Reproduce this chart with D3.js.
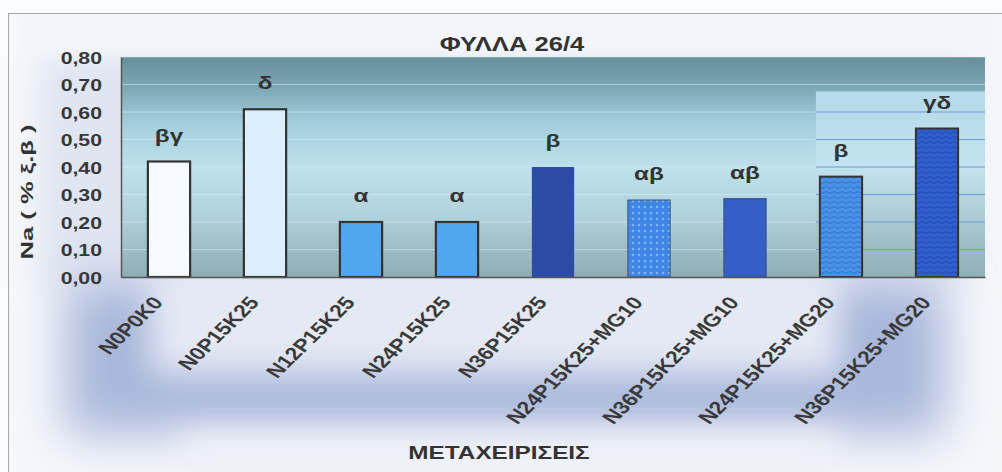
<!DOCTYPE html>
<html><head><meta charset="utf-8">
<script src="https://cdn.jsdelivr.net/npm/d3@7"></script>
<style>html,body{margin:0;padding:0;background:#fff;}svg{display:block;}</style>
</head><body>
<svg id="chart" width="1002" height="472"></svg>
<script>
const categories = ["N0P0K0","N0P15K25","N12P15K25","N24P15K25","N36P15K25","N24P15K25+MG10","N36P15K25+MG10","N24P15K25+MG20","N36P15K25+MG20"];
const values = [0.42, 0.61, 0.20, 0.20, 0.40, 0.28, 0.285, 0.365, 0.54];
const letters = ["βγ","δ","α","α","β","αβ","αβ","β","γδ"];
const yTicks = [0,0.1,0.2,0.3,0.4,0.5,0.6,0.7,0.8];
const title = "ΦΥΛΛΑ 26/4";
const xTitle = "ΜΕΤΑΧΕΙΡΙΣΕΙΣ";
const yTitle = "Na ( % ξ.β )";

const svg = d3.select("#chart");
const W = 1002, H = 472;
const L = 121, R = 985, T = 57, B = 277;
const FONT = "Liberation Sans, Arial, sans-serif";
const SX = 1.28; // horizontal stretch of the original picture

const defs = svg.append("defs");
function lg(id, stops, x2=0, y2=1){
  const g = defs.append("linearGradient").attr("id", id).attr("x1",0).attr("y1",0).attr("x2",x2).attr("y2",y2);
  stops.forEach(s=>g.append("stop").attr("offset",s[0]).attr("stop-color",s[1]));
}
lg("plotBg", [[0,"#668f9b"],[0.13,"#7aa5b1"],[0.3,"#a3cedc"],[0.5,"#bee1ec"],[0.72,"#b1d2dc"],[1,"#8eacb3"]]);
lg("panelBg", [[0,"#b5daea"],[0.4,"#c3e3ef"],[1,"#8fb0b6"]]);
function blur(id, sd){
  defs.append("filter").attr("id",id).attr("x","-40%").attr("y","-80%").attr("width","180%").attr("height","260%")
    .append("feGaussianBlur").attr("stdDeviation",sd);
}
blur("blurA",24); blur("blurB",16); blur("blurC",4);

// dotted pattern
const pDot = defs.append("pattern").attr("id","dots").attr("width",6).attr("height",6).attr("patternUnits","userSpaceOnUse");
pDot.append("rect").attr("width",6).attr("height",6).attr("fill","#3f86e4");
pDot.append("circle").attr("cx",3).attr("cy",3).attr("r",1.3).attr("fill","#7fb4f4");
// wave patterns
function wave(id, bg, fg){
  const p = defs.append("pattern").attr("id",id).attr("width",8).attr("height",5).attr("patternUnits","userSpaceOnUse");
  p.append("rect").attr("width",8).attr("height",5).attr("fill",bg);
  p.append("path").attr("d","M0,2.5 Q2,0.5 4,2.5 T8,2.5").attr("fill","none").attr("stroke",fg).attr("stroke-width",1);
}
wave("wave1","#4a92e6","#2f6fd0");
wave("wave2","#2f5fcc","#2248b0");

// outer background
svg.append("rect").attr("width",W).attr("height",H).attr("fill","#fbfcfe");
svg.append("rect").attr("x",8).attr("y",13).attr("width",994).attr("height",459).attr("fill","#f5f7fb");
// glow
svg.append("rect").attr("x",40).attr("y",55).attr("width",930).attr("height",230)
  .attr("fill","#dfe5f1").attr("filter","url(#blurB)");
svg.append("rect").attr("x",65).attr("y",280).attr("width",880).attr("height",155)
  .attr("fill","#a9b7da").attr("filter","url(#blurA)");
svg.append("rect").attr("x",150).attr("y",262).attr("width",690).attr("height",112)
  .attr("fill","#e4e9f4").attr("filter","url(#blurB)");
svg.append("rect").attr("x",180).attr("y",432).attr("width",660).attr("height",50)
  .attr("fill","#eef1f8").attr("filter","url(#blurB)");
// title band
svg.append("rect").attr("x",20).attr("y",15).attr("width",975).attr("height",38)
  .attr("fill","#f3f5fa").attr("filter","url(#blurC)");
// frame
svg.append("rect").attr("x",8.5).attr("y",13.5).attr("width",1000).attr("height",470)
  .attr("fill","none").attr("stroke","#a8a8a8").attr("stroke-width",1);

const x = d3.scaleBand().domain(categories).range([L,R]).paddingInner(0.56).paddingOuter(0.28);
const y = d3.scaleLinear().domain([0,0.8]).range([B,T]);

// plot background
svg.append("rect").attr("x",L).attr("y",T).attr("width",R-L).attr("height",B-T).attr("fill","url(#plotBg)");
svg.append("g").selectAll("line").data(yTicks.slice(1)).join("line")
  .attr("x1",L).attr("x2",R).attr("y1",d=>y(d)).attr("y2",d=>y(d))
  .attr("stroke","#d6eef6").attr("stroke-width",1.2).attr("opacity",0.55);
// right lighter panel
const panelX = x(categories[7]) - 4;
svg.append("rect").attr("x",panelX).attr("y",y(0.675)).attr("width",R-panelX).attr("height",B-y(0.675)).attr("fill","url(#panelBg)");
svg.append("g").selectAll("line").data(yTicks.filter(d=>d>0 && d<0.675)).join("line")
  .attr("x1",panelX).attr("x2",R).attr("y1",d=>y(d)).attr("y2",d=>y(d))
  .attr("stroke","#6f9bd8").attr("stroke-width",1.2);

// bars
const fills = ["#f6f9fd","#dcefff","#52a6ee","#52a6ee","#2c4ca8","url(#dots)","#3460c6","url(#wave1)","url(#wave2)"];
const strokes = ["#333","#333","#333","#333","none","#3a5070","#2f4f8a","#333","#333"];
const sw = [2.2,2.2,2.2,2.2,0,1,1,2,2];
svg.append("g").selectAll("rect").data(categories).join("rect")
  .attr("x",d=>x(d)).attr("width",x.bandwidth())
  .attr("y",(d,i)=>y(values[i])).attr("height",(d,i)=>y(0)-y(values[i]))
  .attr("fill",(d,i)=>fills[i]).attr("stroke",(d,i)=>strokes[i]).attr("stroke-width",(d,i)=>sw[i]);

// letters
svg.append("g").selectAll("text").data(categories).join("text")
  .attr("transform",(d,i)=>`translate(${x(d)+x.bandwidth()/2},${y(values[i])-20}) scale(${SX},1)`)
  .attr("text-anchor","middle").attr("font-family",FONT)
  .attr("font-weight","bold").attr("font-size",19).attr("fill","#333")
  .text((d,i)=>letters[i]);

// axes
const yAxis = d3.axisLeft(y).tickValues(yTicks).tickSize(0).tickPadding(0)
  .tickFormat(d=>d3.format(".2f")(d).replace(".",","));
const gy = svg.append("g").attr("transform",`translate(${L},0)`).call(yAxis);
gy.select(".domain").attr("stroke","#555").attr("stroke-width",1.5);
gy.selectAll(".tick text").attr("x",null).attr("dy","0.36em")
  .attr("transform",`translate(-19,0) scale(1.25,1)`)
  .attr("font-family",FONT).attr("font-weight","bold").attr("font-size",17).attr("fill","#383838");

const xAxis = d3.axisBottom(x).tickSize(0).tickPadding(0);
const gx = svg.append("g").attr("transform",`translate(0,${B})`).call(xAxis);
gx.select(".domain").attr("stroke","#555").attr("stroke-width",1.5);
gx.selectAll(".tick text").attr("y",null).attr("dy",0)
  .attr("font-family",FONT).attr("font-weight","bold").attr("font-size",18).attr("fill","#3a3a3a")
  .attr("text-anchor","end")
  .attr("transform",`translate(-5,26) scale(${SX},1) rotate(-51)`);

// titles
svg.append("text").attr("transform",`translate(512,51) scale(${SX},1)`).attr("text-anchor","middle")
  .attr("font-family",FONT).attr("font-weight","bold").attr("font-size",20)
  .attr("fill","#333").text(title);
svg.append("text").attr("transform",`translate(499,459) scale(${SX},1)`).attr("text-anchor","middle")
  .attr("font-family",FONT).attr("font-weight","bold").attr("font-size",19)
  .attr("fill","#333").text(xTitle);
svg.append("text").attr("transform","translate(33,192) rotate(-90) scale(1.6,1)").attr("text-anchor","middle")
  .attr("font-family",FONT).attr("font-weight","bold").attr("font-size",16)
  .attr("fill","#333").text(yTitle);
</script>
</body></html>
